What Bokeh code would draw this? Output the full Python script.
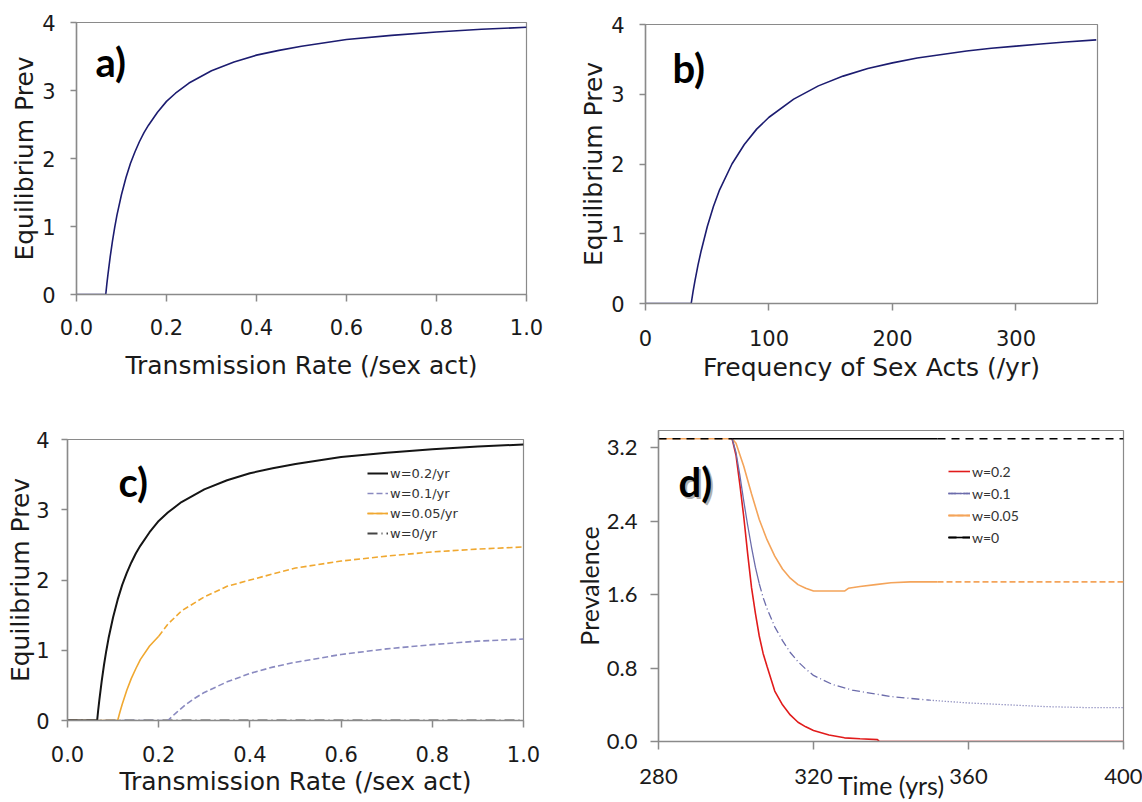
import numpy as np
from bokeh.plotting import figure
from bokeh.layouts import column, row
from bokeh.models import FixedTicker, Range1d, Label, Legend, LegendItem
from bokeh.embed import file_html
from bokeh.resources import INLINE

# ---------------- data ----------------
# a) equilibrium prevalence vs transmission rate
rate_a = [0.0, 0.065, 0.0675, 0.07, 0.075, 0.08, 0.085, 0.09, 0.10, 0.11, 0.12, 0.13, 0.14,
          0.15, 0.16, 0.18, 0.20, 0.22, 0.25, 0.30, 0.35, 0.40, 0.45, 0.50, 0.60, 0.70, 0.80,
          0.90, 1.00]
prev_a = [0.0, 0.0, 0.16, 0.30, 0.56, 0.79, 0.99, 1.17, 1.47, 1.72, 1.93, 2.10, 2.25,
          2.38, 2.49, 2.68, 2.84, 2.96, 3.11, 3.29, 3.42, 3.52, 3.59, 3.65, 3.75, 3.81, 3.86,
          3.90, 3.93]
rate_ticks = [0.0, 0.2, 0.4, 0.6, 0.8, 1.0]
rate_tick_labels = ["0.0", "0.2", "0.4", "0.6", "0.8", "1.0"]
eq_ticks = [0, 1, 2, 3, 4]
eq_tick_labels = ["0", "1", "2", "3", "4"]

# b) equilibrium prevalence vs frequency of sex acts
freq_b = [0, 37, 38.5, 40, 42.5, 45, 50, 55, 60, 70, 80, 90, 100, 120, 140, 160, 180, 200,
          220, 240, 260, 280, 300, 320, 340, 365]
prev_b = [0.0, 0.0, 0.17, 0.32, 0.55, 0.75, 1.10, 1.39, 1.63, 2.00, 2.28, 2.50, 2.67, 2.93,
          3.12, 3.26, 3.37, 3.45, 3.52, 3.57, 3.62, 3.66, 3.69, 3.72, 3.75, 3.78]
freq_ticks = [0, 100, 200, 300]
freq_tick_labels = ["0", "100", "200", "300"]

# c) equilibrium prevalence for different w
rate_c_w02 = [0.0, 0.065, 0.0675, 0.07, 0.075, 0.08, 0.085, 0.09, 0.10, 0.11, 0.12, 0.13, 0.14,
              0.15, 0.16, 0.18, 0.20, 0.22, 0.25, 0.30, 0.35, 0.40, 0.45, 0.50, 0.60, 0.70,
              0.80, 0.90, 1.00]
prev_c_w02 = [0.0, 0.0, 0.16, 0.30, 0.56, 0.79, 0.99, 1.17, 1.47, 1.72, 1.93, 2.10, 2.25,
              2.38, 2.49, 2.68, 2.84, 2.96, 3.11, 3.29, 3.42, 3.52, 3.59, 3.65, 3.75, 3.81,
              3.86, 3.90, 3.93]
rate_c_w01 = [0.0, 0.22, 0.23, 0.24, 0.26, 0.28, 0.30, 0.35, 0.40, 0.45, 0.50, 0.60, 0.70,
              0.80, 0.90, 1.00]
prev_c_w01 = [0.0, 0.0, 0.06, 0.12, 0.23, 0.32, 0.40, 0.55, 0.67, 0.76, 0.83, 0.94, 1.02,
              1.08, 1.13, 1.16]
rate_c_w005 = [0.0, 0.11, 0.115, 0.12, 0.13, 0.14, 0.15, 0.16, 0.18, 0.20, 0.22, 0.25, 0.30,
               0.35, 0.40, 0.50, 0.60, 0.70, 0.80, 0.90, 1.00]
prev_c_w005 = [0.0, 0.0, 0.12, 0.23, 0.43, 0.60, 0.74, 0.87, 1.06, 1.20, 1.37, 1.56, 1.76,
               1.91, 2.00, 2.17, 2.27, 2.34, 2.40, 2.44, 2.47]
rate_c_w0 = [0.0, 1.0]
prev_c_w0 = [0.0, 0.0]
legend_c = ["w=0.2/yr", "w=0.1/yr", "w=0.05/yr", "w=0/yr"]

# d) prevalence over time
time_w02 = [280, 299, 300, 301, 302, 303, 304, 305, 306, 307, 308, 310, 312, 314, 316, 318,
            320, 324, 328, 332, 336.5, 337, 400]
prev_w02 = [3.30, 3.30, 3.12, 2.80, 2.45, 2.05, 1.68, 1.40, 1.15, 0.96, 0.82, 0.55, 0.40, 0.29,
            0.21, 0.16, 0.12, 0.07, 0.04, 0.03, 0.02, 0.0, 0.0]
time_w01 = [280, 299, 300, 301, 302, 303, 304, 305, 306, 307, 308, 310, 312, 314, 316, 318,
            320, 325, 330, 340, 350, 360, 370, 380, 390, 400]
prev_w01 = [3.30, 3.30, 3.15, 2.90, 2.62, 2.36, 2.12, 1.90, 1.72, 1.57, 1.45, 1.25, 1.10, 0.97,
            0.87, 0.79, 0.72, 0.62, 0.56, 0.49, 0.45, 0.42, 0.40, 0.38, 0.37, 0.37]
time_w005 = [280, 299, 300, 302, 304, 306, 308, 310, 312, 314, 316, 318, 320, 328, 329, 332,
             336, 340, 345, 352, 400]
prev_w005 = [3.30, 3.30, 3.25, 3.00, 2.70, 2.42, 2.20, 2.02, 1.88, 1.78, 1.71, 1.67, 1.64, 1.64,
             1.67, 1.69, 1.71, 1.73, 1.74, 1.74, 1.74]
time_w0 = [280, 299, 352, 400]
prev_w0 = [3.30, 3.30, 3.30, 3.30]
time_ticks = [280, 320, 360, 400]
time_tick_labels = ["280", "320", "360", "400"]
prev_ticks = [0.0, 0.8, 1.6, 2.4, 3.2]
prev_tick_labels = ["0.0", "0.8", "1.6", "2.4", "3.2"]
legend_d = ["w=0.2", "w=0.1", "w=0.05", "w=0"]

# ---------------- helpers ----------------
AX = "#8a8a8a"
TXT = "#1a1a1a"
VERD = "DejaVu Sans"
CALI = "Lato"


def seg(xs, ys, lo, hi):
    xs = np.asarray(xs, dtype=float)
    ys = np.asarray(ys, dtype=float)
    m = (xs >= lo) & (xs <= hi)
    return xs[m], ys[m]


def make_fig(w, h, bl, br, bt, bb, xr, yr):
    p = figure(width=w, height=h, x_range=Range1d(*xr), y_range=Range1d(*yr),
               output_backend="svg", toolbar_location=None,
               min_border_left=bl, min_border_right=br, min_border_top=bt, min_border_bottom=bb)
    p.xgrid.visible = False
    p.ygrid.visible = False
    p.outline_line_color = AX
    p.outline_line_width = 1.2
    p.background_fill_color = "white"
    p.border_fill_color = "white"
    return p


def style_axes(p, font, tick_px, title_px, xtick_out, ytick_out, xstand, ystand, xtstand, ytstand):
    for ax, tout, st, tst in ((p.xaxis[0], xtick_out, xstand, xtstand),
                              (p.yaxis[0], ytick_out, ystand, ytstand)):
        ax.axis_line_color = AX
        ax.axis_line_width = 1.5
        ax.major_tick_line_color = AX
        ax.major_tick_line_width = 1.5
        ax.major_tick_out = tout
        ax.major_tick_in = 0
        ax.minor_tick_line_color = None
        ax.major_label_text_font = font
        ax.major_label_text_font_size = tick_px
        ax.major_label_text_color = TXT
        ax.major_label_standoff = st
        ax.axis_label_text_font = font
        ax.axis_label_text_font_size = title_px
        ax.axis_label_text_font_style = "normal"
        ax.axis_label_text_color = TXT
        ax.axis_label_standoff = tst


def set_ticks(axis, ticks, labels):
    axis.ticker = FixedTicker(ticks=ticks)
    axis.major_label_overrides = {t: l for t, l in zip(ticks, labels)}


def panel_label(p, text, x, y, shadow=False):
    if shadow:
        p.add_layout(Label(x=x + 2, y=y - 2, x_units="screen", y_units="screen", text=text,
                           text_font=CALI, text_font_size="40px", text_font_style="bold",
                           text_color="#b0b0b0", text_baseline="middle"))
    p.add_layout(Label(x=x, y=y, x_units="screen", y_units="screen", text=text,
                       text_font=CALI, text_font_size="40px", text_font_style="bold",
                       text_color="#000000", text_baseline="middle"))


# ---------------- panel a ----------------
pa = make_fig(570, 405, 76, 44, 22, 111, (0, 1.0), (0, 4))
pa.line(rate_a, prev_a, line_color="#1c1c70", line_width=1.6)
style_axes(pa, VERD, "21px", "25px", 7, 6, 17, 15, 13, 0)
set_ticks(pa.xaxis[0], rate_ticks, rate_tick_labels)
set_ticks(pa.yaxis[0], eq_ticks, eq_tick_labels)
pa.xaxis.axis_label = "Transmission Rate (/sex act)"
pa.yaxis.axis_label = "Equilibrium Prev"
panel_label(pa, "a)", 19, 233)

# ---------------- panel b ----------------
pb = make_fig(572, 405, 75, 45, 24, 102, (0, 366), (0, 4))
pb.line(freq_b, prev_b, line_color="#1c1c70", line_width=1.6)
style_axes(pb, VERD, "21px", "25px", 7, 6, 19, 15, 4, 0)
set_ticks(pb.xaxis[0], freq_ticks, freq_tick_labels)
set_ticks(pb.yaxis[0], eq_ticks, eq_tick_labels)
pb.xaxis.axis_label = "Frequency of Sex Acts (/yr)"
pb.yaxis.axis_label = "Equilibrium Prev"
panel_label(pb, "b)", 27, 236)

# ---------------- panel c ----------------
pc = make_fig(570, 397, 67, 47, 34, 82, (0, 1.0), (0, 4))
r_w0c = pc.line(rate_c_w0, prev_c_w0, line_color="#444444", line_width=2, line_dash="10 4 1 4")
x1, y1 = seg(rate_c_w01, prev_c_w01, 0, 1.0)
r_w01c = pc.line(x1, y1, line_color="#8a8ac0", line_width=1.6, line_dash="6 3")
x2, y2 = seg(rate_c_w005, prev_c_w005, 0.2, 1.0)
r_w005c = pc.line(x2, y2, line_color="#f0a830", line_width=1.6, line_dash="6 3")
x3, y3 = seg(rate_c_w005, prev_c_w005, 0, 0.2)
r_w005c_s = pc.line(x3, y3, line_color="#f0a830", line_width=1.6)
r_w02c = pc.line(rate_c_w02, prev_c_w02, line_color="#151515", line_width=2)
style_axes(pc, VERD, "21px", "25px", 7, 6, 18, 12, 2, -2)
set_ticks(pc.xaxis[0], rate_ticks, rate_tick_labels)
set_ticks(pc.yaxis[0], eq_ticks, eq_tick_labels)
pc.xaxis.axis_label = "Transmission Rate (/sex act)"
pc.yaxis.axis_label = "Equilibrium Prev"
panel_label(pc, "c)", 51, 239)
leg_c = Legend(items=[LegendItem(label=legend_c[0], renderers=[r_w02c]),
                      LegendItem(label=legend_c[1], renderers=[r_w01c]),
                      LegendItem(label=legend_c[2], renderers=[r_w005c, r_w005c_s]),
                      LegendItem(label=legend_c[3], renderers=[r_w0c])],
               location=(300, 177), orientation="vertical", border_line_color=None,
               background_fill_alpha=0, padding=0, margin=0, spacing=0,
               glyph_width=21, glyph_height=20, label_height=20, label_standoff=2,
               label_text_font=VERD, label_text_font_size="13px", label_text_color="#333333")
pc.add_layout(leg_c)

# ---------------- panel d ----------------
pd_ = make_fig(572, 397, 86, 19, 25, 60, (280, 400), (0, 3.39))
xo0, yo0 = seg(time_w005, prev_w005, 280, 299)
r_w005_a = pd_.line(xo0, yo0, line_color="#f4a45a", line_width=1.6)
xr_, yr_ = seg(time_w02, prev_w02, 299, 400)
r_w02 = pd_.line(xr_, yr_, line_color="#e11b1b", line_width=1.6)
xo1, yo1 = seg(time_w005, prev_w005, 299, 352)
r_w005_s = pd_.line(xo1, yo1, line_color="#f4a45a", line_width=1.6)
xo2, yo2 = seg(time_w005, prev_w005, 352, 400)
r_w005 = pd_.line(xo2, yo2, line_color="#f4a45a", line_width=1.6, line_dash="6 3")
xp1, yp1 = seg(time_w01, prev_w01, 299, 306)
r_w01_s = pd_.line(xp1, yp1, line_color="#6c6cab", line_width=1.3)
xp2, yp2 = seg(time_w01, prev_w01, 306, 350)
r_w01_dd = pd_.line(xp2, yp2, line_color="#6c6cab", line_width=1.3, line_dash="8 3 1 3")
xp3, yp3 = seg(time_w01, prev_w01, 350, 400)
r_w01 = pd_.line(xp3, yp3, line_color="#6c6cab", line_width=1.3, line_dash="1 2")
xb1, yb1 = seg(time_w0, prev_w0, 280, 299)
r_w0_a = pd_.line(xb1, yb1, line_color="#000000", line_width=1.6, line_dash="8 6")
xb2, yb2 = seg(time_w0, prev_w0, 299, 352)
r_w0_s = pd_.line(xb2, yb2, line_color="#000000", line_width=1.6)
xb3, yb3 = seg(time_w0, prev_w0, 352, 400)
r_w0 = pd_.line(xb3, yb3, line_color="#000000", line_width=1.6, line_dash="8 6")
style_axes(pd_, CALI, "22px", "25px", 8, 8, 19, 13, -17, 0)
set_ticks(pd_.xaxis[0], time_ticks, time_tick_labels)
set_ticks(pd_.yaxis[0], prev_ticks, prev_tick_labels)
pd_.yaxis.axis_label = "Prevalence"
pd_.xaxis.axis_label = "Time (yrs)"
panel_label(pd_, "d)", 20, 260, shadow=True)
leg_d = Legend(items=[LegendItem(label=legend_d[0], renderers=[r_w02]),
                      LegendItem(label=legend_d[1], renderers=[r_w01, r_w01_s, r_w01_dd]),
                      LegendItem(label=legend_d[2], renderers=[r_w005, r_w005_s, r_w005_a]),
                      LegendItem(label=legend_d[3], renderers=[r_w0, r_w0_a, r_w0_s])],
               location=(290, 193), orientation="vertical", border_line_color=None,
               background_fill_alpha=0, padding=0, margin=0, spacing=0,
               glyph_width=22, glyph_height=22, label_height=22, label_standoff=2,
               label_text_font=CALI, label_text_font_size="14px", label_text_color="#333333")
pd_.add_layout(leg_d)

layout = column(row(column(pa), column(pb), spacing=0),
                row(column(pc), column(pd_), spacing=0), spacing=0)
open("out.html", "w").write(file_html(layout, INLINE))
